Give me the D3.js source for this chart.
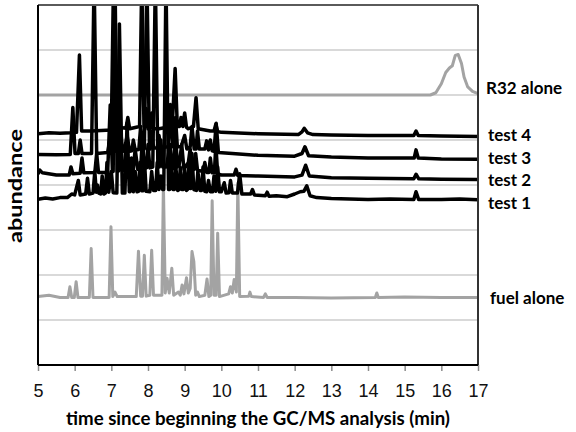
<!DOCTYPE html>
<html>
<head>
<meta charset="utf-8">
<script src="https://cdn.jsdelivr.net/npm/d3@7"></script>
<style>
  body { margin: 0; background: #fff; }
  svg { font-family: Lato, "Open Sans", sans-serif; }
  .grid line { stroke: #b3b3b3; stroke-width: 1.2; }
  .axis--x path { display: none; }
  .axis--x line { stroke: #8c8c8c; stroke-width: 1.5; }
  .axis--x text { font-size: 18px; fill: #111; }
  .trace { fill: none; stroke-linejoin: round; stroke-linecap: round; }
  .trace.black { stroke: #000; stroke-width: 3.5; }
  .trace.grey { stroke: #a3a3a3; stroke-width: 3; }
  .lbl { font-size: 18px; font-weight: bold; fill: #000; }
  .lbl.series { font-size: 17px; }
</style>
</head>
<body>
<div id="chart"></div>
<script>
// time (min), abundance in grid units (0..8, no labels on y)
const xTicks = [5, 6, 7, 8, 9, 10, 11, 12, 13, 14, 15, 16, 17];
const gridVals = [1, 2, 3, 4, 5, 6, 7];

const r32 = [[5, 6.0], [15.7, 6.0], [15.85, 6.05], [16.0, 6.25], [16.12, 6.5], [16.22, 6.6], [16.3, 6.65],
  [16.38, 6.88], [16.46, 6.9], [16.55, 6.7], [16.62, 6.4], [16.72, 6.18], [16.85, 6.08], [17, 6.03]];

const test4 = [[5, 5.14], [5.3, 5.16], [5.6, 5.15], [5.9, 5.16], [6.05, 5.17], [6.13, 6.89], [6.19, 5.2],
  [6.45, 5.2], [7.0, 5.22], [7.06, 8.6], [7.12, 5.3], [7.16, 5.3], [7.2, 5.6], [7.25, 5.28], [7.4, 5.26],
  [7.45, 5.5], [7.5, 5.25], [7.77, 5.3], [7.83, 8.6], [7.89, 5.3], [7.92, 5.3], [7.95, 5.7], [8.0, 5.25],
  [8.06, 5.26], [8.1, 5.6], [8.15, 5.25], [8.3, 5.25], [8.45, 5.27], [8.5, 5.6], [8.55, 5.28], [8.66, 5.3],
  [8.74, 6.59], [8.8, 5.3], [8.86, 5.3], [8.9, 5.5], [8.95, 5.3], [9.0, 5.6], [9.05, 5.28], [9.1, 5.25],
  [9.24, 5.3], [9.31, 5.94], [9.37, 5.25], [9.7, 5.2], [9.8, 5.2], [9.85, 5.35], [9.9, 5.19], [10, 5.17],
  [11, 5.14], [12.1, 5.12], [12.2, 5.18], [12.26, 5.26], [12.35, 5.16], [12.5, 5.12], [13, 5.11], [14, 5.1],
  [15.25, 5.1], [15.31, 5.2], [15.37, 5.1], [16, 5.09], [17, 5.08]];

const test3 = [[5, 4.68], [5.5, 4.67], [5.88, 4.68], [5.95, 5.72], [6.01, 4.7], [6.1, 4.7], [6.15, 5.0],
  [6.2, 4.7], [6.46, 4.7], [6.53, 8.6], [6.6, 4.7], [6.9, 4.72], [7.0, 5.2], [7.05, 4.75], [7.11, 4.75],
  [7.15, 5.4], [7.2, 4.76], [7.25, 5.3], [7.3, 4.76], [7.35, 4.75], [7.43, 5.1], [7.5, 4.75], [7.56, 4.76],
  [7.6, 5.0], [7.65, 4.78], [7.75, 4.79], [7.8, 5.3], [7.85, 4.8], [7.9, 4.8], [7.97, 8.6], [8.04, 4.8],
  [8.06, 4.8], [8.1, 5.2], [8.15, 4.82], [8.25, 4.82], [8.3, 5.1], [8.35, 4.83], [8.55, 4.85], [8.61, 5.79],
  [8.67, 4.85], [8.71, 4.85], [8.75, 5.5], [8.8, 4.85], [8.9, 4.85], [9.0, 5.1], [9.06, 4.8], [9.15, 4.85],
  [9.2, 5.3], [9.26, 4.8], [9.31, 4.8], [9.35, 5.2], [9.4, 4.8], [9.55, 4.8], [9.6, 4.98], [9.65, 4.78],
  [9.7, 5.0], [9.75, 4.76], [9.8, 4.75], [9.86, 5.37], [9.92, 4.72], [10.3, 4.7], [11, 4.66], [12, 4.64],
  [12.2, 4.7], [12.28, 4.85], [12.38, 4.65], [13, 4.62], [14, 4.6], [15.26, 4.6], [15.31, 4.78],
  [15.37, 4.6], [16, 4.58], [17, 4.57]];

const test2 = [[5, 4.25], [5.05, 4.33], [5.12, 4.27], [5.5, 4.22], [5.85, 4.22], [5.9, 4.4], [5.95, 4.25],
  [6.15, 4.26], [6.2, 4.6], [6.25, 4.27], [6.55, 4.28], [6.6, 4.7], [6.65, 4.28], [6.9, 4.28], [6.97, 5.78],
  [7.03, 4.3], [7.05, 4.3], [7.1, 8.6], [7.16, 4.3], [7.21, 4.32], [7.25, 5.0], [7.3, 4.33], [7.36, 4.33],
  [7.4, 4.8], [7.45, 4.34], [7.6, 4.35], [7.65, 4.8], [7.72, 4.35], [7.8, 4.36], [7.85, 5.1], [7.9, 4.37],
  [7.96, 4.38], [8.0, 4.9], [8.05, 4.38], [8.13, 4.4], [8.2, 8.6], [8.27, 4.4], [8.31, 4.4], [8.35, 5.0],
  [8.4, 4.4], [8.5, 4.4], [8.6, 4.9], [8.66, 4.35], [8.7, 4.38], [8.75, 5.2], [8.8, 4.4], [8.85, 4.45],
  [8.92, 4.9], [8.98, 4.35], [9.1, 4.5], [9.15, 4.8], [9.2, 4.35], [9.26, 4.35], [9.3, 4.7], [9.35, 4.33],
  [9.5, 4.3], [9.55, 4.5], [9.6, 4.28], [9.66, 4.28], [9.7, 4.6], [9.75, 4.27], [9.81, 4.27], [9.85, 4.9],
  [9.9, 4.25], [10, 4.22], [10.35, 4.22], [10.4, 4.35], [10.45, 4.21], [11, 4.2], [12, 4.18], [12.2, 4.22],
  [12.3, 4.44], [12.4, 4.2], [13, 4.16], [14, 4.15], [15.25, 4.14], [15.31, 4.24], [15.38, 4.14],
  [16, 4.13], [17, 4.12]];

const test1 = [[5, 3.68], [5.2, 3.71], [5.4, 3.69], [5.6, 3.72], [5.8, 3.72], [5.92, 3.8], [6.0, 3.78],
  [6.1, 4.1], [6.15, 3.78], [6.3, 3.8], [6.35, 4.15], [6.4, 3.8], [6.5, 3.82], [6.55, 4.3], [6.59, 3.84],
  [6.62, 4.0], [6.66, 3.82], [6.71, 3.8], [6.75, 4.2], [6.8, 3.8], [6.84, 3.82], [6.88, 4.5], [6.93, 3.84],
  [7.0, 4.3], [7.05, 3.83], [7.15, 3.82], [7.22, 7.58], [7.3, 3.82], [7.37, 3.82], [7.43, 5.38], [7.49, 3.85],
  [7.51, 3.85], [7.55, 4.6], [7.6, 3.85], [7.65, 4.3], [7.7, 3.85], [7.74, 3.86], [7.78, 4.5], [7.83, 3.87],
  [7.86, 3.87], [7.9, 4.6], [7.95, 3.86], [8.05, 3.85], [8.1, 4.3], [8.15, 3.88], [8.21, 3.88], [8.25, 4.5],
  [8.3, 3.9], [8.35, 4.2], [8.4, 3.9], [8.43, 3.9], [8.49, 8.6], [8.56, 3.9], [8.59, 3.9], [8.63, 4.6],
  [8.68, 3.9], [8.72, 3.9], [8.76, 4.4], [8.81, 3.88], [8.85, 3.9], [8.88, 4.4], [8.92, 3.9], [8.96, 3.9],
  [9.0, 4.35], [9.05, 3.88], [9.08, 3.9], [9.12, 4.5], [9.16, 3.92], [9.2, 4.7], [9.25, 3.9], [9.32, 3.88],
  [9.36, 4.3], [9.42, 3.88], [9.46, 3.88], [9.5, 4.4], [9.55, 3.86], [9.6, 3.85], [9.65, 4.1], [9.7, 3.85],
  [9.76, 3.85], [9.8, 4.2], [9.85, 3.86], [9.9, 4.4], [9.95, 3.85], [10.0, 3.85], [10.08, 4.05], [10.13, 3.82],
  [10.21, 3.83], [10.25, 4.1], [10.3, 3.82], [10.44, 3.82], [10.5, 4.25], [10.56, 3.8], [10.8, 3.8],
  [10.85, 3.9], [10.9, 3.78], [11.2, 3.76], [11.25, 3.84], [11.3, 3.75], [11.5, 3.76], [11.8, 3.74],
  [12.0, 3.8], [12.15, 3.85], [12.25, 3.86], [12.33, 3.98], [12.42, 3.76], [12.6, 3.72], [13, 3.7],
  [13.5, 3.69], [14, 3.68], [14.6, 3.69], [15.25, 3.68], [15.31, 3.85], [15.38, 3.68], [16, 3.68],
  [16.5, 3.69], [17, 3.67]];

const fuel = [[5.0, 1.52], [5.3, 1.55], [5.6, 1.5], [5.82, 1.5], [5.87, 1.74], [5.92, 1.5], [5.99, 1.5],
  [6.04, 1.85], [6.09, 1.5], [6.4, 1.5], [6.45, 2.59], [6.5, 1.5], [6.94, 1.5], [6.99, 3.07], [7.04, 1.52],
  [7.1, 1.62], [7.16, 1.52], [7.68, 1.52], [7.74, 2.53], [7.8, 1.53], [7.85, 1.53], [7.9, 2.44], [7.95, 1.53],
  [8.05, 1.55], [8.1, 2.55], [8.15, 1.55], [8.38, 1.55], [8.42, 4.04], [8.47, 1.6], [8.52, 1.93], [8.58, 1.6],
  [8.65, 2.15], [8.7, 1.55], [8.83, 1.62], [8.88, 1.55], [8.93, 1.78], [8.98, 1.58], [9.05, 1.94], [9.1, 1.6],
  [9.15, 1.7], [9.2, 2.52], [9.25, 2.3], [9.3, 1.55], [9.35, 1.62], [9.4, 1.52], [9.55, 1.55], [9.61, 1.91],
  [9.66, 1.52], [9.71, 1.55], [9.75, 3.65], [9.8, 1.55], [9.86, 1.55], [9.9, 2.93], [9.95, 1.52], [10.2, 1.58],
  [10.25, 1.74], [10.3, 1.6], [10.35, 1.9], [10.41, 1.62], [10.45, 4.04], [10.5, 1.52], [10.75, 1.53],
  [10.78, 1.62], [10.82, 1.52], [11.15, 1.5], [11.2, 1.58], [11.25, 1.5], [12, 1.5], [13, 1.49], [14.2, 1.5],
  [14.24, 1.6], [14.28, 1.5], [15, 1.51], [16, 1.5], [17, 1.5]];

const series = [
  { name: 'fuel alone', data: fuel, cls: 'grey', lx: 490, ly: 304 },
  { name: 'R32 alone', data: r32, cls: 'grey', lx: 486, ly: 94 },
  { name: 'test 1', data: test1, cls: 'black', lx: 488, ly: 209 },
  { name: 'test 2', data: test2, cls: 'black', lx: 488, ly: 186 },
  { name: 'test 3', data: test3, cls: 'black', lx: 488, ly: 164 },
  { name: 'test 4', data: test4, cls: 'black', lx: 488, ly: 141 }
];

const W = 576, H = 432;
const margin = { top: 5, right: 98, bottom: 67, left: 38 };
const width = W - margin.left - margin.right;
const height = H - margin.top - margin.bottom;

const x = d3.scaleLinear().domain([5, 17]).range([0, width]);
const y = d3.scaleLinear().domain([0, 8]).range([height, 0]);

const svg = d3.select('#chart').append('svg')
  .attr('width', W).attr('height', H);

svg.append('defs').append('clipPath').attr('id', 'plotclip')
  .append('rect').attr('width', width).attr('height', height);

const g = svg.append('g')
  .attr('transform', `translate(${margin.left},${margin.top})`);

// gridlines
g.append('g').attr('class', 'grid')
  .selectAll('line').data(gridVals).enter().append('line')
  .attr('x1', 0).attr('x2', width)
  .attr('y1', d => y(d)).attr('y2', d => y(d));

// x axis
g.append('g')
  .attr('class', 'axis axis--x')
  .attr('transform', `translate(0,${height})`)
  .call(d3.axisBottom(x).tickValues(xTicks).tickSize(6).tickPadding(13));

const line = d3.line().x(d => x(d[0])).y(d => y(d[1]));

const plot = g.append('g').attr('clip-path', 'url(#plotclip)');
plot.selectAll('.trace')
  .data(series).enter().append('path')
  .attr('class', d => 'trace ' + d.cls)
  .attr('d', d => line(d.data));

// frame
g.append('line').attr('x1', 0).attr('x2', width).attr('y1', 0).attr('y2', 0)
  .style('stroke', '#5a5a5a').style('stroke-width', 2);
g.append('line').attr('x1', width).attr('x2', width).attr('y1', 0).attr('y2', height)
  .style('stroke', '#333').style('stroke-width', 2);
g.append('line').attr('x1', 0).attr('x2', width).attr('y1', height).attr('y2', height)
  .style('stroke', '#000').style('stroke-width', 2);
g.append('line').attr('x1', 0).attr('x2', 0).attr('y1', 0).attr('y2', height)
  .style('stroke', '#000').style('stroke-width', 2);

// series labels
svg.selectAll('.lbl.series')
  .data(series).enter().append('text')
  .attr('class', 'lbl series')
  .attr('x', d => d.lx).attr('y', d => d.ly)
  .text(d => d.name);

// axis titles
svg.append('text').attr('class', 'lbl')
  .attr('x', 258).attr('y', 425)
  .attr('text-anchor', 'middle')
  .attr('textLength', 384).attr('lengthAdjust', 'spacingAndGlyphs')
  .text('time since beginning the GC/MS analysis (min)');

svg.append('text').attr('class', 'lbl')
  .attr('transform', 'translate(22,186) rotate(-90)')
  .attr('text-anchor', 'middle')
  .attr('textLength', 114).attr('lengthAdjust', 'spacingAndGlyphs')
  .text('abundance');
</script>
</body>
</html>
